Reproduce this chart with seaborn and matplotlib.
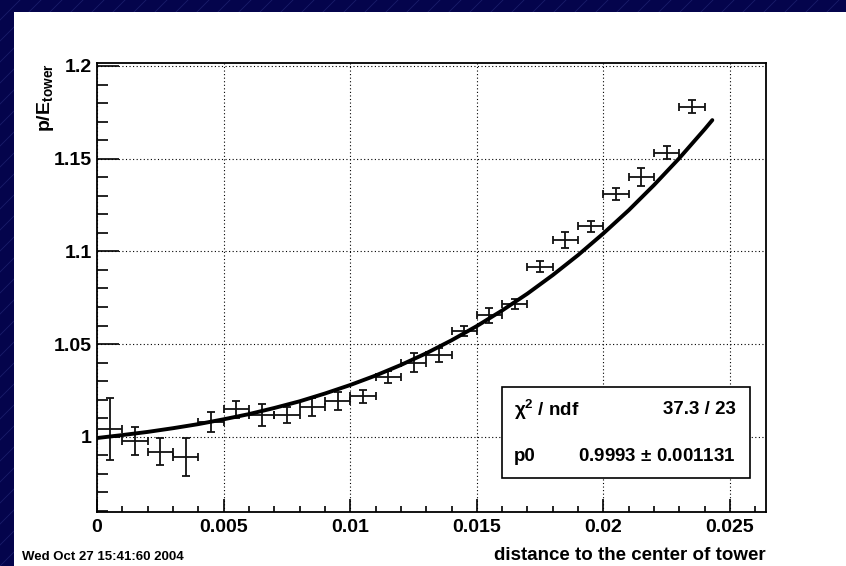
import matplotlib
matplotlib.use("Agg")
import matplotlib.pyplot as plt
import seaborn as sns
import pandas as pd
from matplotlib.patches import Rectangle
from matplotlib.lines import Line2D
from matplotlib.ticker import FixedLocator, FixedFormatter

# ---------------- data ----------------
bin_centers = [0.0005, 0.0015, 0.0025, 0.0035, 0.0045, 0.0055, 0.0065, 0.0075,
               0.0085, 0.0095, 0.0105, 0.0115, 0.0125, 0.0135, 0.0145, 0.0155,
               0.0165, 0.0175, 0.0185, 0.0195, 0.0205, 0.0215, 0.0225, 0.0235]
ratio_values = [1.0042, 0.9978, 0.9919, 0.9892, 1.0081, 1.0148, 1.0117, 1.0117,
                1.0159, 1.0193, 1.0218, 1.0322, 1.0399, 1.0441, 1.0572, 1.0656,
                1.0716, 1.0917, 1.1061, 1.1136, 1.1309, 1.1402, 1.1532, 1.1780]
ratio_errors = [0.0169, 0.0077, 0.0072, 0.0102, 0.0054, 0.0045, 0.0060, 0.0041,
                0.0048, 0.0051, 0.0036, 0.0034, 0.0050, 0.0038, 0.0028, 0.0041,
                0.0027, 0.0029, 0.0042, 0.0029, 0.0031, 0.0048, 0.0036, 0.0035]
bin_half_width = 0.0005

fit_x = [0.0, 0.001, 0.002, 0.003, 0.004, 0.005, 0.006, 0.007, 0.008, 0.009,
         0.010, 0.011, 0.012, 0.013, 0.014, 0.015, 0.016, 0.017, 0.018, 0.019,
         0.020, 0.021, 0.022, 0.023, 0.024, 0.0243]
fit_y = [0.9993, 1.0009, 1.0026, 1.0046, 1.0068, 1.0094, 1.0122, 1.0155,
         1.0191, 1.0233, 1.0279, 1.0330, 1.0387, 1.0450, 1.0520, 1.0597,
         1.0681, 1.0772, 1.0872, 1.0980, 1.1097, 1.1222, 1.1358, 1.1503,
         1.1659, 1.1708]

x_ticks = [0.0, 0.005, 0.01, 0.015, 0.02, 0.025]
x_tick_labels = ["0", "0.005", "0.01", "0.015", "0.02", "0.025"]
x_minor = [0.001, 0.002, 0.003, 0.004, 0.006, 0.007, 0.008, 0.009, 0.011,
           0.012, 0.013, 0.014, 0.016, 0.017, 0.018, 0.019, 0.021, 0.022,
           0.023, 0.024, 0.026]
y_ticks = [1.0, 1.05, 1.1, 1.15, 1.2]
y_tick_labels = ["1", "1.05", "1.1", "1.15", "1.2"]
y_minor = [0.96, 0.97, 0.98, 0.99, 1.01, 1.02, 1.03, 1.04, 1.06, 1.07, 1.08,
           1.09, 1.11, 1.12, 1.13, 1.14, 1.16, 1.17, 1.18, 1.19]

stats_rows = [("χ$^{2}$ / ndf", "37.3 / 23"),
              ("p0", "0.9993 $\\pm$ 0.001131")]
date_text = "Wed Oct 27 15:41:60 2004"

# ---------------- style ----------------
sns.set_theme(style="ticks")
plt.rcParams['font.family'] = ['Liberation Sans', 'DejaVu Sans']
plt.rcParams['font.weight'] = 'bold'
plt.rcParams['mathtext.fontset'] = 'custom'
plt.rcParams['mathtext.rm'] = 'Liberation Sans:bold'
plt.rcParams['mathtext.it'] = 'Liberation Sans:italic:bold'
plt.rcParams['mathtext.bf'] = 'Liberation Sans:bold'

BLUE = "#04044c"
W, H = 846, 566
fig = plt.figure(figsize=(W / 100, H / 100), dpi=100, facecolor=BLUE)

# decorative diagonal lines of the slide background
for k in range(-40, 60):
    x0 = k * 21 / 100
    fig.add_artist(Line2D([x0, x0 + 7], [0, 7], transform=fig.dpi_scale_trans,
                          color="#3b4196", lw=0.6, alpha=0.4, zorder=0.5))
# white canvas
fig.add_artist(Rectangle((14 / W, 0), 1, (H - 12) / H, transform=fig.transFigure,
                         facecolor="white", edgecolor="none", zorder=1))

ax = fig.add_axes([97 / W, 1 - 512 / H, 669 / W, 449 / H])
ax.set_zorder(3)
ax.set_facecolor("white")

df_pts = pd.DataFrame({"x": bin_centers, "y": ratio_values, "err": ratio_errors})
df_fit = pd.DataFrame({"x": fit_x, "y": fit_y})

ax.errorbar(df_pts["x"], df_pts["y"], xerr=bin_half_width, yerr=df_pts["err"],
            fmt="none", ecolor="#111111", elinewidth=1.3, capsize=2.6,
            capthick=1.3, zorder=3)
sns.lineplot(data=df_fit, x="x", y="y", ax=ax, color="black", linewidth=2.8,
             zorder=4, sort=False)
for l in ax.lines:
    l.set_solid_capstyle("round")
    l.set_solid_joinstyle("round")

ax.set_xlim(0, 0.02642)
ax.set_ylim(0.9594, 1.2016)

ax.xaxis.set_major_locator(FixedLocator(x_ticks))
ax.xaxis.set_major_formatter(FixedFormatter(x_tick_labels))
ax.xaxis.set_minor_locator(FixedLocator(x_minor))
ax.yaxis.set_major_locator(FixedLocator(y_ticks))
ax.yaxis.set_major_formatter(FixedFormatter(y_tick_labels))
ax.yaxis.set_minor_locator(FixedLocator(y_minor))

ax.grid(True, which="major", color="black", linestyle=(0, (1, 2.2)), linewidth=0.8)
ax.set_axisbelow(True)

ax.tick_params(axis="both", which="both", direction="in", top=False, right=False,
               colors="black", width=1.2, labelsize=14)
ax.tick_params(axis="y", which="major", length=15.8, pad=3.6)
ax.tick_params(axis="y", which="minor", length=7.9)
ax.tick_params(axis="x", which="major", length=9.4, pad=5)
ax.tick_params(axis="x", which="minor", length=4.3)
for lab in ax.get_xticklabels() + ax.get_yticklabels():
    lab.set_fontweight("bold")

for s in ax.spines.values():
    s.set_color("black")
    s.set_linewidth(1.3)
    s.set_visible(True)

ax.set_xlabel("distance to the center of tower", loc="right", fontsize=13.5,
              fontweight="bold", color="black")
ax.xaxis.set_label_coords(1.0, -0.078)
ax.set_ylabel(r"p/E$_{\mathbf{tower}}$", loc="top", fontsize=14,
              fontweight="bold", color="black")
ax.yaxis.set_label_coords(-0.061, 1.0)

# stats box
ax.add_patch(Rectangle((0.6054, 0.0757), 0.976 - 0.6054, 0.2784 - 0.0757,
                       transform=ax.transAxes, facecolor="white",
                       edgecolor="black", linewidth=1.2, zorder=6))
row_y = [0.2272, 0.1247]
for (left_txt, right_txt), yy in zip(stats_rows, row_y):
    ax.text(0.6233, yy, left_txt, transform=ax.transAxes, ha="left", va="center",
            fontsize=13.5, fontweight="bold", color="black", zorder=7)
    ax.text(0.955, yy, right_txt, transform=ax.transAxes, ha="right", va="center",
            fontsize=13.5, fontweight="bold", color="black", zorder=7)

fig.text(22 / W, 1 - 557 / H, date_text, ha="left", va="center", fontsize=9.5,
         fontweight="bold", color="black", zorder=5)

fig.savefig("out.png", dpi=100, facecolor=BLUE)
